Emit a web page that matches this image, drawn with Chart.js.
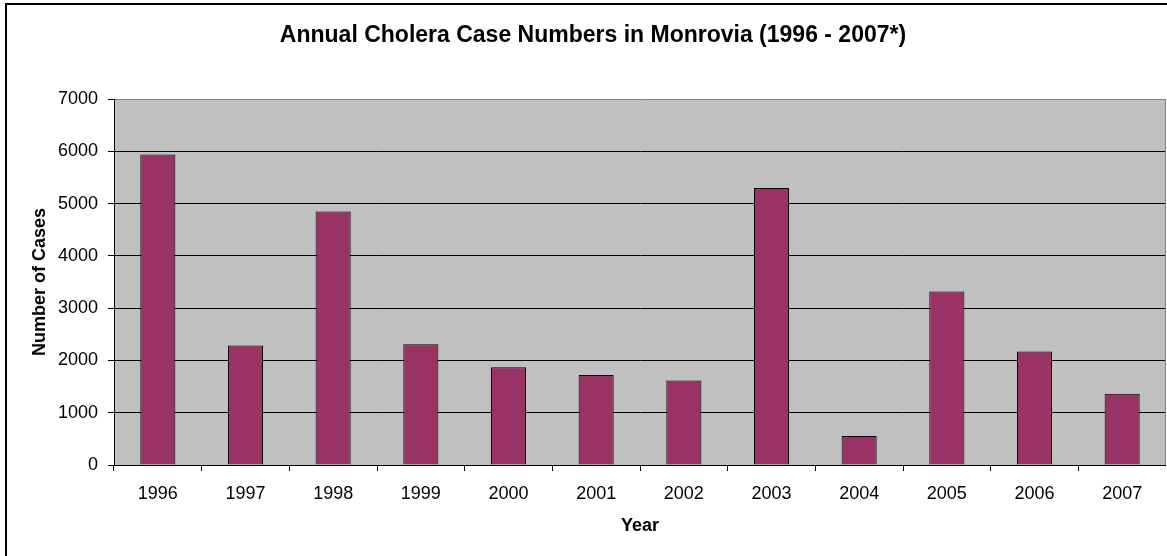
<!DOCTYPE html>
<html>
<head>
<meta charset="utf-8">
<script src="https://cdn.jsdelivr.net/npm/chart.js@4"></script>
<style>
    html, body { margin: 0; padding: 0; background: #fff; overflow: hidden; }
    body { width: 1167px; height: 556px; position: relative; }
    #frame { position: absolute; left: 5px; top: 3px; width: 1200px; height: 600px; border: 2px solid #000; }
    #chart-cholera { position: absolute; left: 20px; top: 0; }
</style>
</head>
<body>
<div id="frame"></div>
<canvas id="chart-cholera" width="1146" height="556"></canvas>
<script>
var years = ['1996', '1997', '1998', '1999', '2000', '2001', '2002', '2003', '2004', '2005', '2006', '2007'];
var cases = [5940, 2285, 4850, 2310, 1870, 1720, 1615, 5300, 555, 3320, 2170, 1365];
var yMax = 7000;
var yStep = 1000;

var fontFamily = "'Liberation Sans', Arial, sans-serif";

// grey plot area + grey right edge, like the spreadsheet chart
var plotArea = {
    id: 'plotArea',
    beforeDraw: function (chart) {
        var a = chart.chartArea, ctx = chart.ctx;
        ctx.save();
        ctx.fillStyle = '#c0c0c0';
        ctx.fillRect(a.left, a.top, a.right - a.left, a.bottom - a.top);
        ctx.restore();
    },
    afterDraw: function (chart) {
        var a = chart.chartArea, ctx = chart.ctx;
        ctx.save();
        ctx.strokeStyle = '#808080';
        ctx.lineWidth = 1;
        ctx.beginPath();
        ctx.moveTo(a.right - 0.5, a.top);
        ctx.lineTo(a.right - 0.5, a.bottom);
        ctx.stroke();
        ctx.restore();
    }
};

var canvasCholera = document.getElementById('chart-cholera');

if (canvasCholera) var chartCholera = new Chart(canvasCholera.getContext('2d'), {
    type: 'bar',
    data: {
        labels: years,
        datasets: [{
            label: 'Number of Cases',
            data: cases,
            backgroundColor: '#993366',
            borderColor: '#000',
            borderWidth: 1,
            barPercentage: 0.4,
            categoryPercentage: 1
        }]
    },
    plugins: [plotArea],
    options: {
        responsive: false,
        animation: false,
        devicePixelRatio: 1,
        layout: { padding: 0 },
        plugins: {
            legend: { display: false },
            tooltip: { enabled: false },
            title: {
                display: true,
                text: 'Annual Cholera Case Numbers in Monrovia (1996 - 2007*)',
                color: '#000',
                font: { family: fontFamily, size: 23, weight: 'bold' },
                padding: { top: 21.5, bottom: 50 }
            }
        },
        scales: {
            x: {
                grid: {
                    display: true,
                    drawOnChartArea: false,
                    drawTicks: true,
                    tickLength: 6,
                    color: '#000',
                    tickColor: '#000'
                },
                border: { color: '#000', width: 1 },
                ticks: {
                    color: '#000',
                    padding: 12,
                    maxRotation: 0,
                    font: { family: fontFamily, size: 18 }
                },
                title: {
                    display: true,
                    text: 'Year',
                    color: '#000',
                    font: { family: fontFamily, size: 18, weight: 'bold' },
                    padding: { top: 0, bottom: 19 }
                },
                afterFit: function (scale) { scale.height = 91; }
            },
            y: {
                min: 0,
                max: yMax,
                grid: {
                    color: function (ctx) { return ctx.tick && ctx.tick.value === yMax ? '#808080' : '#000'; },
                    tickColor: '#000',
                    tickLength: 6,
                    lineWidth: 1
                },
                border: { color: '#000', width: 1 },
                ticks: {
                    stepSize: yStep,
                    color: '#000',
                    padding: 10,
                    font: { family: fontFamily, size: 18 },
                    callback: function (value) { return String(value); }
                },
                title: {
                    display: true,
                    text: 'Number of Cases',
                    color: '#000',
                    font: { family: fontFamily, size: 18, weight: 'bold' },
                    padding: { top: 9, bottom: 0 }
                },
                afterFit: function (scale) { scale.width = 94; }
            }
        }
    }
});
</script>
</body>
</html>
